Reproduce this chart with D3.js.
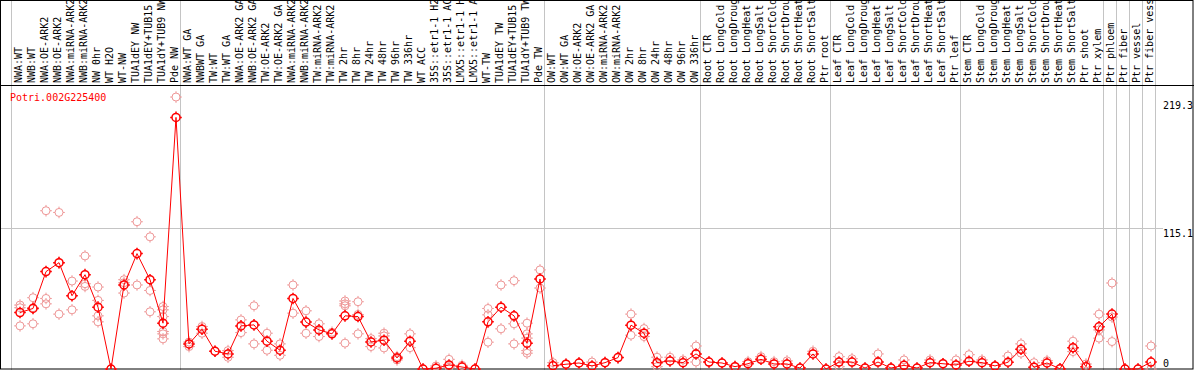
<!DOCTYPE html>
<html>
<head>
<meta charset="utf-8">
<script src="https://cdn.jsdelivr.net/npm/d3@7"></script>
<style>
  body { margin: 0; background: #fff; }
  text { font-family: "DejaVu Sans Mono", monospace; font-size: 10px; }
</style>
</head>
<body>
<div id="chart"></div>
<script>
// gene shown in the plot
const geneId = "Potri.002G225400";

// sample labels, left to right
const categories = [
  "NWA:WT", "NWB:WT", "NWA:OE-ARK2", "NWB:OE-ARK2", "NWA:miRNA-ARK2", "NWB:miRNA-ARK2",
  "NW 0hr", "WT H2O", "WT-NW", "TUA1dEY NW", "TUA1dEY+TUB15 NW", "TUA1dY+TUB9 NW", "Pde NW",
  "NWA:WT GA", "NWBWT GA", "TW:WT", "TW:WT GA", "NWA:OE-ARK2 GA", "NWB:OE-ARK2 GA",
  "TW:OE-ARK2", "TW:OE-ARK2 GA", "NWA:miRNA-ARK2", "NWB:miRNA-ARK2", "TW:miRNA-ARK2",
  "TW:miRNA-ARK2", "TW 2hr", "TW 8hr", "TW 24hr", "TW 48hr", "TW 96hr", "TW 336hr", "WT ACC",
  "35S::etr1-1 H2O", "35S::etr1-1 ACC", "LMX5::etr1-1 H2O", "LMX5::etr1-1 ACC", "WT-TW",
  "TUA1dEY TW", "TUA1dEY+TUB15 TW", "TUA1dY+TUB9 TW", "Pde TW",
  "OW:WT", "OW:WT GA", "OW:OE-ARK2", "OW:OE-ARK2 GA", "OW:miRNA-ARK2", "OW:miRNA-ARK2",
  "OW 2hr", "OW 8hr", "OW 24hr", "OW 48hr", "OW 96hr", "OW 336hr",
  "Root CTR", "Root LongCold", "Root LongDrought", "Root LongHeat", "Root LongSalt",
  "Root ShortCold", "Root ShortDrought", "Root ShortHeat", "Root ShortSalt", "Ptr root",
  "Leaf CTR", "Leaf LongCold", "Leaf LongDrought", "Leaf LongHeat", "Leaf LongSalt",
  "Leaf ShortCold", "Leaf ShortDrought", "Leaf ShortHeat", "Leaf ShortSalt", "Ptr leaf",
  "Stem CTR", "Stem LongCold", "Stem LongDrought", "Stem LongHeat", "Stem LongSalt",
  "Stem ShortCold", "Stem ShortDrought", "Stem ShortHeat", "Stem ShortSalt", "Ptr shoot",
  "Ptr xylem", "Ptr phloem", "Ptr fiber", "Ptr vessel", "Ptr fiber vessel"
];

// mean expression per sample
const meanValues = [
  46.1, 49.4, 79.5, 86.8, 59.8, 77.0, 50.5, 0, 68.6, 94.2, 72.9, 37.4, 205.4,
  20.5, 32.5, 14.5, 12.3, 35.2, 36.0, 22.7, 15.3, 57.6, 38.3, 31.9, 28.7, 43.4, 42.8,
  22.1, 23.5, 9.0, 22.7, 0, 0.6, 3.3, 1.6, 0, 38.5, 50.5, 43.4, 21.1, 73.5,
  2.7, 3.9, 4.9, 2.5, 5.2, 9.3, 35.8, 29.2, 5.2, 6.6, 5.2, 12.3,
  5.7, 4.9, 1.9, 4.3, 7.9, 4.1, 4.1, 0.8, 12.3, 0,
  5.7, 5.7, 0.8, 5.7, 0.8, 3.0, 0.8, 5.2, 4.3, 3.3,
  6.3, 5.2, 2.5, 5.5, 16.1, 1.4, 4.9, 0.2, 17.4, 1.9, 34.4,
  44.8, 0, 0, 5.7
];

// individual replicates per sample
const replicateValues = [
  [52.2, 50.0, 35.2], [58.2, 50.0, 36.9], [129.2, 57.6, 53.2], [127.8, 86.8, 44.8],
  [71.8, 48.3], [92.3, 69.6, 67.4], [66.9, 56.0, 43.4, 38.5], [0, 0],
  [72.9, 70.4, 62.0], [120.2, 68.6], [107.9, 64.1, 46.7],
  [51.0, 48.3, 42.8, 30.6, 28.7, 24.6], [222.0],
  [18.3, 22.0], [34.7, 29.2], [14.5], [15.0, 9.6], [40.1, 29.7], [51.6, 20.5],
  [29.2, 15.3], [20.5, 11.2], [68.6, 45.6], [47.5, 29.2], [36.9, 26.5], [30.0],
  [55.5, 53.2, 51.6, 21.1], [54.9, 44.5, 28.7], [24.8, 18.3], [29.2, 27.0, 17.2],
  [10.1, 7.4], [28.7, 17.4], [0], [2.5], [7.9, 1.4], [3.0], [0],
  [49.4, 44.2, 21.9], [68.6, 32.8], [72.1, 36.9, 20.5], [37.4, 28.7, 25.2, 15.0, 12.9],
  [80.9, 66.1],
  [5.2], [3.9], [4.9], [5.7], [5.2], [9.3], [44.8, 27.6], [33.0, 26.5], [9.6, 1.9],
  [9.6], [7.4], [18.8, 5.7],
  [5.7], [4.9], [1.9], [6.0], [10.1], [6.0], [6.6], [0.8], [14.5], [0],
  [10.1, 1.9], [8.4], [0.8], [12.3], [0.8], [7.4], [0.8], [7.4], [4.3], [7.4],
  [11.7], [7.4], [2.5], [10.6], [20.5, 12.9], [5.2], [6.8], [0.2], [22.7, 14.2],
  [4.1], [44.8, 31.9, 25.2],
  [70.2, 42.4, 22.4], [0], [0], [18.8, 0]
];

// index of the first sample of each group (last entry closes the final group)
const groupStarts = [0, 13, 41, 53, 63, 73, 84, 85, 86, 87, 88];

// y axis labels and grid
const yTickValues = [0, 115.1, 219.3];
const gridValues = [115.1];

const width = 1194;
const height = 370;
const headerBottom = 85;
const plotRight = 1163;

const svg = d3.select("#chart").append("svg")
  .attr("width", width)
  .attr("height", height);

const x = d3.scaleLinear()
  .domain([0, categories.length - 1])
  .range([20, 20 + 13 * (categories.length - 1)]);

const y = d3.scaleLinear()
  .domain([0, 115.1])
  .range([369, 228]);

// group separators, full height
svg.append("g")
  .selectAll("line")
  .data(groupStarts)
  .enter().append("line")
  .attr("x1", d => Math.round(x(d) - 9) + 0.5)
  .attr("x2", d => Math.round(x(d) - 9) + 0.5)
  .attr("y1", 0)
  .attr("y2", height)
  .style("stroke", "#c4c4c4")
  .style("stroke-width", 1);

// horizontal grid
svg.append("g")
  .selectAll("line")
  .data(gridValues)
  .enter().append("line")
  .attr("x1", 1)
  .attr("x2", plotRight)
  .attr("y1", d => Math.round(y(d)) + 0.5)
  .attr("y2", d => Math.round(y(d)) + 0.5)
  .style("stroke", "#c4c4c4")
  .style("stroke-width", 1);

// frame and header divider
svg.append("rect")
  .attr("x", 0.5)
  .attr("y", 0.5)
  .attr("width", width - 1.5)
  .attr("height", height - 1.5)
  .style("fill", "none")
  .style("stroke", "#000");

svg.append("line")
  .attr("x1", 0)
  .attr("x2", width)
  .attr("y1", headerBottom + 0.5)
  .attr("y2", headerBottom + 0.5)
  .style("stroke", "#000");

// sample labels, rotated
svg.append("g")
  .selectAll("text")
  .data(categories)
  .enter().append("text")
  .attr("transform", (d, i) => `translate(${x(i) + 1.5}, ${headerBottom - 2}) rotate(-90)`)
  .style("fill", "#000")
  .text(d => d);

// gene id
svg.append("text")
  .attr("x", 10)
  .attr("y", 101)
  .style("fill", "#f00")
  .text(geneId);

// y tick labels
svg.append("g")
  .selectAll("text")
  .data(yTickValues)
  .enter().append("text")
  .attr("x", plotRight)
  .attr("y", d => y(d) + (d === 0 ? -2 : 9))
  .style("fill", "#000")
  .text(d => d);

// circle with little ticks, like the original marker
function marker(sel, color, sw) {
  sel.append("circle")
    .attr("r", 4)
    .style("fill", "none")
    .style("stroke", color)
    .style("stroke-width", sw);
  [[0, -4, 0, -5.8], [0, 4, 0, 5.8], [-4, 0, -5.8, 0], [4, 0, 5.8, 0]].forEach(t => {
    sel.append("line")
      .attr("x1", t[0]).attr("y1", t[1])
      .attr("x2", t[2]).attr("y2", t[3])
      .style("stroke", color)
      .style("stroke-width", sw);
  });
}

// replicates
const reps = [];
replicateValues.forEach((vals, i) => vals.forEach(v => reps.push({ i, v })));

svg.append("g")
  .selectAll("g")
  .data(reps)
  .enter().append("g")
  .attr("transform", d => `translate(${x(d.i)}, ${y(d.v)})`)
  .call(marker, "#ee9696", 1);

// mean line
const line = d3.line()
  .x((d, i) => x(i))
  .y(d => y(d));

svg.append("path")
  .datum(meanValues)
  .attr("d", line)
  .style("fill", "none")
  .style("stroke", "#f00")
  .style("stroke-width", 1);

// means
svg.append("g")
  .selectAll("g")
  .data(meanValues)
  .enter().append("g")
  .attr("transform", (d, i) => `translate(${x(i)}, ${y(d)})`)
  .call(marker, "#f00", 1.5);
</script>
</body>
</html>
